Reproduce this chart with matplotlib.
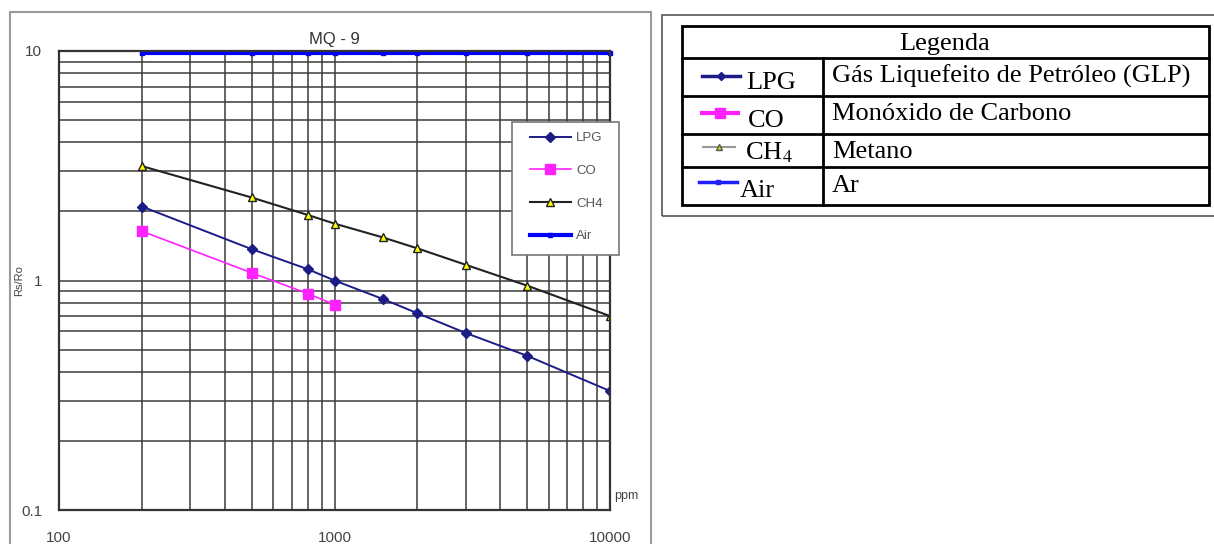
import matplotlib.pyplot as plt
import matplotlib.ticker as ticker
from matplotlib.lines import Line2D
from matplotlib.patches import Rectangle

# sensor response curves (Rs/Ro against gas concentration in ppm)
ppm = [200, 500, 800, 1000, 1500, 2000, 3000, 5000, 10000]
lpg = [2.1, 1.37, 1.12, 1.0, 0.83, 0.72, 0.59, 0.47, 0.33]
co_ppm = [200, 500, 800, 1000]
co = [1.64, 1.08, 0.877, 0.785]
ch4 = [3.15, 2.3, 1.93, 1.77, 1.54, 1.38, 1.17, 0.95, 0.70]
air = [9.8, 9.8, 9.8, 9.8, 9.8, 9.8, 9.8, 9.8, 9.8]

series_names = ["LPG", "CO", "CH4", "Air"]
table_labels = ["LPG", "CO", "CH$_4$", "Air"]
table_desc = ["Gás Liquefeito de Petróleo (GLP)", "Monóxido de Carbono", "Metano", "Ar"]

W, H = 1214, 544
fig = plt.figure(figsize=(W / 100, H / 100), dpi=100)
plt.rcParams["mathtext.fontset"] = "stix"


def fx(px):
    return px / W


def fy(py):
    return 1 - py / H


# gray frame around the chart panel
fig.add_artist(Rectangle((fx(10), fy(560)), fx(641), fy(12) - fy(560), transform=fig.transFigure,
                         fill=False, edgecolor="#9a9a9a", linewidth=1.5))

ax = fig.add_axes([fx(59), fy(510), fx(551), fy(51) - fy(510)])
ax.set_xscale("log")
ax.set_yscale("log")
ax.set_xlim(100, 10000)
ax.set_ylim(0.1, 10)

ax.plot(ppm, lpg, color="#1c1c86", linewidth=1.4, marker="D", markersize=5, label="LPG")
ax.plot(co_ppm, co, color="#ff22ff", linewidth=1.2, marker="s", markersize=7, label="CO")
ax.plot(ppm, ch4, color="#222222", linewidth=1.5, marker="^", markersize=6,
        markerfacecolor="#ffff00", markeredgecolor="#222222", label="CH4")
ax.plot(ppm, air, color="#0000ff", linewidth=3, marker="s", markersize=3, clip_on=False, label="Air")

ax.xaxis.set_major_locator(ticker.FixedLocator([100, 1000, 10000]))
ax.xaxis.set_minor_locator(ticker.LogLocator(base=10, subs=range(2, 10)))
ax.yaxis.set_major_locator(ticker.FixedLocator([0.1, 1, 10]))
ax.yaxis.set_minor_locator(ticker.LogLocator(base=10, subs=range(2, 10)))
ax.set_xticklabels(["100", "1000", "10000"])
ax.set_yticklabels(["0.1", "1", "10"])
ax.xaxis.set_minor_formatter(ticker.NullFormatter())
ax.yaxis.set_minor_formatter(ticker.NullFormatter())
ax.tick_params(which="both", length=0)
ax.tick_params(axis="x", pad=15, labelsize=11, labelcolor="#444444")
ax.tick_params(axis="y", pad=12, labelsize=11, labelcolor="#444444")
for lab in ax.get_xticklabels() + ax.get_yticklabels():
    lab.set_family("Liberation Sans")

ax.grid(True, which="both", color="#3a3a3a", linewidth=1.1)
ax.set_axisbelow(True)
for sp in ax.spines.values():
    sp.set_color("#333333")
    sp.set_linewidth(1.6)

ax.set_title("MQ - 9", fontsize=12, color="#333333", family="Liberation Sans", pad=5)
ax.set_ylabel("Rs/Ro", fontsize=8, color="#444444", family="Liberation Sans", labelpad=-2)
ax.text(1.008, 0.03, "ppm", transform=ax.transAxes, fontsize=9, color="#444444",
        family="Liberation Sans", ha="left", va="center")

# legend inside the plot, with its own frame box
ax.add_artist(Rectangle((fx(512), fy(255)), fx(107), fy(122) - fy(255), transform=fig.transFigure,
                        facecolor="white", edgecolor="#777777", linewidth=1.2, zorder=4,
                        clip_on=False))
leg = ax.legend(loc="upper left", bbox_to_anchor=(fx(530), fy(132)), bbox_transform=fig.transFigure,
                borderaxespad=0, frameon=False, handlelength=3.1, handletextpad=0.38,
                labelspacing=1.55, borderpad=0, prop={"family": "Liberation Sans", "size": 9.5})
leg.set_zorder(5)
for t in leg.get_texts():
    t.set_color("#555555")

# legend table on the right
fig.add_artist(Rectangle((fx(662), fy(216)), fx(560), fy(15) - fy(216), transform=fig.transFigure,
                         fill=False, edgecolor="#555555", linewidth=1.2))
fig.add_artist(Rectangle((fx(682), fy(205)), fx(527), fy(26) - fy(205), transform=fig.transFigure,
                         fill=False, edgecolor="black", linewidth=2))
for y in [58, 96, 134, 167]:
    fig.add_artist(Line2D([fx(682), fx(1209)], [fy(y), fy(y)], transform=fig.transFigure,
                          color="black", linewidth=2))
fig.add_artist(Line2D([fx(823), fx(823)], [fy(58), fy(205)], transform=fig.transFigure,
                      color="black", linewidth=2))

serif = "Liberation Serif"
fig.text(fx(945), fy(50), "Legenda", fontsize=19, family=serif, ha="center", va="baseline")

icon_y = [76, 113, 147, 182]
icon_x = [(702, 740), (702, 738), (703, 735), (699, 737)]
icon_style = [
    dict(color="#1c1c86", linewidth=2.5, marker="D", markersize=4),
    dict(color="#ff22ff", linewidth=3, marker="s", markersize=7),
    dict(color="#999999", linewidth=1.5, marker="^", markersize=5, markerfacecolor="#d8d800",
         markeredgecolor="#555555"),
    dict(color="#2020ff", linewidth=2.5, marker="s", markersize=2.5),
]
label_pos = [(746, 89), (748, 127), (745, 159), (740, 197)]
desc_base = [83, 120, 158, 192]

for i in range(len(series_names)):
    x0, x1 = icon_x[i]
    fig.add_artist(Line2D([fx(x0), fx((x0 + x1) / 2), fx(x1)], [fy(icon_y[i])] * 3,
                          transform=fig.transFigure, markevery=[1], **icon_style[i]))
    lx, ly = label_pos[i]
    fig.text(fx(lx), fy(ly), table_labels[i], fontsize=19, family=serif, ha="left", va="baseline")
    fig.text(fx(832), fy(desc_base[i]), table_desc[i], fontsize=19, family=serif,
             ha="left", va="baseline")

fig.savefig("out.png", dpi=100)
